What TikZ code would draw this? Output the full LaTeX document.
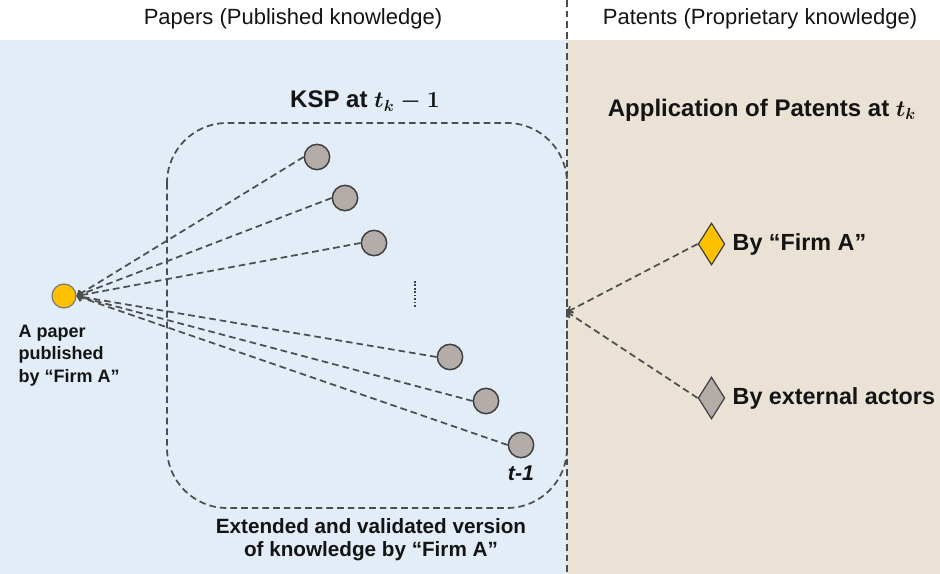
\documentclass[tikz,border=0pt]{standalone}
\usepackage{fontspec}
\setmainfont{Liberation Sans}
\usetikzlibrary{shapes.geometric,arrows.meta}
\definecolor{paperbg}{HTML}{E2EDF8}
\definecolor{patentbg}{HTML}{EAE3D5}
\definecolor{linegray}{HTML}{4D4D4D}
\definecolor{dotgray}{HTML}{B3ACA8}
\definecolor{dotedge}{HTML}{3F3F3F}
\definecolor{firmyellow}{HTML}{FFC000}
\definecolor{txt}{HTML}{141414}
\begin{document}
\begin{tikzpicture}[x=0.75pt,y=-0.75pt,
  conn/.style={draw=linegray, line width=1.3pt, dash pattern=on 5pt off 3pt},
  tip/.style={-{Straight Barb[length=3pt,width=5.5pt]}},
  dotnode/.style={circle, draw=dotedge, line width=1.1pt, fill=dotgray, minimum size=19pt, inner sep=0pt},
  paperdot/.style={circle, draw=dotedge!70, line width=0.9pt, fill=firmyellow, minimum size=18pt, inner sep=0pt},
  patentdia/.style={diamond, draw=dotedge, line width=0.9pt, minimum width=20pt, minimum height=31.5pt, inner sep=0pt},
  header/.style={font=\fontsize{16.5pt}{19pt}\selectfont, text=txt},
  title/.style={font=\fontsize{18pt}{21pt}\selectfont\bfseries\boldmath, text=txt},
  lbl/.style={font=\fontsize{17.5pt}{20pt}\selectfont\bfseries, text=txt, anchor=west}
]
\useasboundingbox (0,0) rectangle (940,574);
\fill[white] (0,0) rectangle (940,574);
\fill[paperbg] (0,40) rectangle (567,574);
\fill[patentbg] (567,40) rectangle (940,574);

% headers
\node[header] (hpapers) at (293,19) {Papers (Published knowledge)};
\node[header] (hpatents) at (760,19) {Patents (Proprietary knowledge)};

% separator
\draw[linegray, line width=1pt, dash pattern=on 5pt off 3pt] (567,0) -- (567,574);

% KSP box
\draw[conn] (167,123) [rounded corners=45pt] rectangle (567,508);
\node[title] (ksp) at (365,101) {KSP at $t_k-1$};
\node[title] (app) at (762,110) {Application of Patents at $t_k$};

% paper node
\node[paperdot] (paper) at (64,296) {};
\node[anchor=north west, align=left, font=\fontsize{13.5pt}{17pt}\selectfont\bfseries, text=txt] (paperlbl) at (14,320) {A paper\\published\\by “Firm A”};

% cited papers
\node[dotnode] (g1) at (317,157) {};
\node[dotnode] (g2) at (345,198) {};
\node[dotnode] (g3) at (374,243) {};
\node[dotnode] (g4) at (450,357) {};
\node[dotnode] (g5) at (486,401) {};
\node[dotnode] (g6) at (521,445) {};
\foreach \g in {g1,g2,g3,g4,g5,g6}{
  \draw[conn, tip] (\g.west) -- (paper.east);
}
\draw[dotedge, line width=1.8pt, dash pattern=on 1.2pt off 1.4pt] (415,281) -- (415,307);
\node[font=\fontsize{16pt}{18pt}\selectfont\bfseries\itshape, text=txt] (tlab) at (521,473) {t-1};

\node[align=center, font=\fontsize{15.5pt}{17.5pt}\selectfont\bfseries, text=txt] (ext) at (371,540) {Extended and validated version\\of knowledge by “Firm A”};

% patents
\coordinate (hub) at (567,312);
\node[patentdia, fill=firmyellow] (d1) at (711.5,244) {};
\node[patentdia, fill=dotgray] (d2) at (711.5,398) {};
\draw[conn, tip] (d1.west) -- (hub);
\draw[conn, tip] (d2.west) -- (hub);
\node[lbl] (l1) at (728,244) {By “Firm A”};
\node[lbl] (l2) at (728,398) {By external actors};
\end{tikzpicture}
\end{document}
